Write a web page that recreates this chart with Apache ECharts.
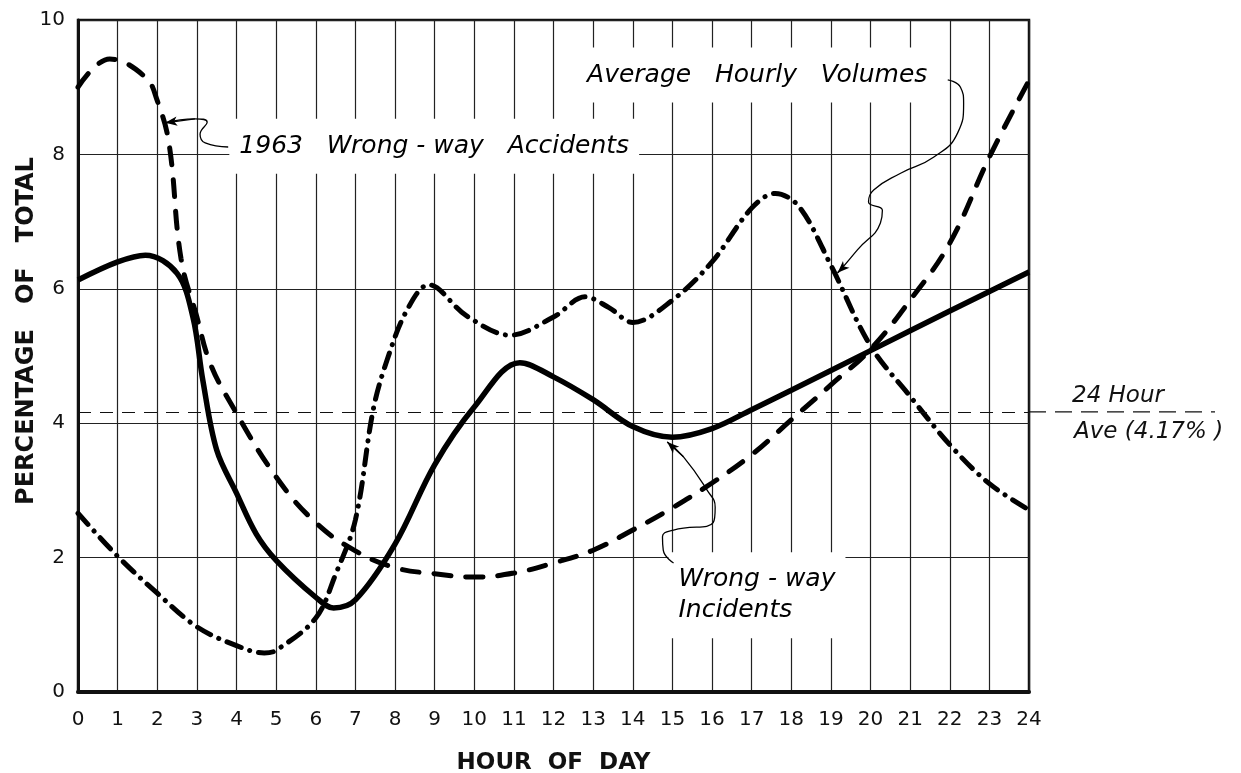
<!DOCTYPE html>
<html>
<head>
<meta charset="utf-8">
<script src="https://cdn.jsdelivr.net/npm/echarts@6/dist/echarts.min.js"></script>
<style>
  html, body { margin: 0; padding: 0; background: #fff; }
  #chart { width: 1241px; height: 773px; }
</style>
</head>
<body>
<div id="chart"></div>
<script>
// hour of day 0-24 (percentage of total)
const incidentHours = [0, 1, 1.7, 2.5, 2.9, 3.15, 3.5, 4, 4.5, 5, 6, 6.45, 7, 8, 9, 10, 11.15, 12, 13, 14, 15, 16, 17, 18, 20, 22, 24]
const incidentPct = [6.13, 6.4, 6.5, 6.23, 5.58, 4.64, 3.6, 2.96, 2.35, 1.96, 1.41, 1.25, 1.37, 2.2, 3.38, 4.24, 4.9, 4.69, 4.35, 3.95, 3.79, 3.92, 4.2, 4.49, 5.08, 5.67, 6.25]

const accidentHours = [0, 0.8, 1.7, 2, 2.3, 2.6, 3, 3.33, 3.85, 5, 6, 7, 8, 9, 10, 11, 12, 13, 14, 15, 16, 17, 18, 19, 20, 21, 22, 23, 24]
const accidentPct = [9.0, 9.42, 9.15, 8.8, 8.15, 6.45, 5.58, 4.9, 4.3, 3.2, 2.52, 2.1, 1.85, 1.76, 1.71, 1.77, 1.92, 2.11, 2.41, 2.74, 3.11, 3.53, 4.05, 4.57, 5.1, 5.83, 6.68, 7.96, 9.1]

const volumeHours = [0, 1, 2, 3, 4, 4.7, 5, 6, 6.5, 7, 7.45, 7.8, 8.3, 8.85, 9.8, 10.9, 12, 12.8, 13.4, 14, 15, 16, 17, 17.6, 18.2, 19, 20, 21, 22, 23, 24]
const volumePct = [2.66, 2.02, 1.47, 0.97, 0.69, 0.58, 0.62, 1.1, 1.75, 2.56, 4.2, 4.94, 5.68, 6.06, 5.6, 5.31, 5.58, 5.88, 5.72, 5.5, 5.83, 6.4, 7.2, 7.42, 7.22, 6.35, 5.15, 4.4, 3.68, 3.1, 2.71]

const dayAverage = 4.17

// leader curves from the notes to their lines, in chart units
const accidentsLeader = [[3.79, 8.11], [3.21, 8.17], [3.08, 8.3], [3.26, 8.48], [2.95, 8.53], [2.2, 8.47]]
const volumesLeader = [[21.95, 9.11], [22.27, 9.0], [22.35, 8.76], [22.2, 8.32], [21.6, 7.96], [20.76, 7.72], [20.08, 7.47], [19.95, 7.29], [20.3, 7.17], [20.25, 6.98], [19.67, 6.58], [19.24, 6.28], [19.17, 6.24]]
const incidentsLeader = [[15.03, 1.92], [14.77, 2.11], [14.75, 2.31], [15.03, 2.41], [16.03, 2.52], [16.08, 2.75], [15.88, 3.0], [15.28, 3.5], [14.87, 3.72]]

const pairs = (xs, ys) => xs.map((x, i) => [x, ys[i]])
const font = 'DejaVu Sans'

const leader = (data) => ({
  type: 'line',
  data: data,
  smooth: 0.5,
  silent: true,
  z: 3,
  showSymbol: false,
  lineStyle: { color: '#000', width: 1.3 },
  markLine: {
    silent: true,
    symbol: ['none', 'arrow'],
    symbolSize: [7, 12],
    label: { show: false },
    lineStyle: { color: '#000', width: 1.3, type: 'solid' },
    data: [[{ coord: data[data.length - 2] }, { coord: data[data.length - 1] }]],
  },
})

const note = (x, y, text, align) => ({
  value: [x, y],
  label: {
    show: true,
    position: 'inside',
    align: align || 'center',
    verticalAlign: 'middle',
    formatter: text,
    fontFamily: font,
    fontStyle: 'italic',
    fontSize: 25,
    lineHeight: 31,
    color: '#000',
    backgroundColor: '#fff',
    padding: [12, 10],
  },
})

let option = {
  animation: false,
  backgroundColor: '#fff',
  grid: {
    left: 78,
    right: 212,
    top: 20,
    bottom: 81,
    outerBoundsMode: 'none',
    show: true,
    borderColor: '#111',
    borderWidth: 2.5,
  },
  xAxis: {
    type: 'value',
    min: 0,
    max: 24,
    interval: 1,
    name: 'HOUR  OF  DAY',
    nameLocation: 'middle',
    nameGap: 60,
    nameTextStyle: { fontFamily: font, fontWeight: 'bold', fontSize: 23, color: '#111' },
    axisLine: { show: true, lineStyle: { color: '#111', width: 4 } },
    axisTick: { show: false },
    axisLabel: { margin: 18, fontFamily: font, fontSize: 20, color: '#111' },
    splitLine: { show: true, lineStyle: { color: '#222', width: 1.2 } },
  },
  yAxis: {
    type: 'value',
    min: 0,
    max: 10,
    interval: 2,
    name: 'PERCENTAGE   OF   TOTAL',
    nameLocation: 'middle',
    nameGap: 39,
    nameMoveOverlap: false,
    nameTextStyle: { fontFamily: font, fontWeight: 'bold', fontSize: 24, color: '#111', padding: [0, 0, 0, 50] },
    axisLine: { show: true, lineStyle: { color: '#111', width: 3 } },
    axisTick: { show: false },
    axisLabel: { margin: 13, fontFamily: font, fontSize: 20, color: '#111' },
    splitLine: { show: true, lineStyle: { color: '#222', width: 1.2 } },
  },
  series: [
    {
      // white label boxes that break the grid, like the drawing
      type: 'scatter',
      z: 1,
      symbolSize: 0,
      silent: true,
      itemStyle: { opacity: 1 },
      data: [
        note(8.99, 8.12, '1963   Wrong - way   Accidents'),
        note(17.14, 9.18, 'Average   Hourly   Volumes'),
        note(14.9, 1.44, 'Wrong - way\nIncidents', 'left'),
      ],
    },
    {
      name: 'Average Hourly Volumes',
      type: 'line',
      z: 4,
      data: pairs(volumeHours, volumePct),
      smooth: 0.35,
      showSymbol: false,
      lineStyle: { color: '#000', width: 5, type: [15, 9, 0.1, 9], cap: 'round' },
      markLine: {
        silent: true,
        symbol: 'none',
        label: { show: false },
        lineStyle: { color: '#111', width: 1.2, type: [13, 9] },
        data: [[{ coord: [0, dayAverage] }, { coord: [24, dayAverage] }]],
      },
    },
    {
      name: '1963 Wrong-way Accidents',
      type: 'line',
      z: 4,
      data: pairs(accidentHours, accidentPct),
      smooth: 0.4,
      showSymbol: false,
      lineStyle: { color: '#000', width: 5, type: [17, 15], cap: 'round' },
    },
    {
      name: 'Wrong-way Incidents',
      type: 'line',
      z: 5,
      data: pairs(incidentHours, incidentPct),
      smooth: 0.35,
      showSymbol: false,
      lineStyle: { color: '#000', width: 5.5 },
    },
    leader(accidentsLeader),
    leader(volumesLeader),
    leader(incidentsLeader),
  ],
}

const chart = echarts.init(document.getElementById('chart'), null, { renderer: 'canvas' })
chart.setOption(option)

// average line runs past the frame to its note on the right
const right = chart.convertToPixel('grid', [24, dayAverage])
chart.setOption({
  graphic: [
    {
      type: 'line',
      silent: true,
      shape: { x1: right[0], y1: right[1], x2: right[0] + 186, y2: right[1] },
      style: { stroke: '#111', lineWidth: 1.2, lineDash: [17, 9] },
    },
    {
      type: 'text',
      x: right[0] + 43,
      y: right[1] - 16,
      style: { text: '24 Hour', fontFamily: font, fontStyle: 'italic', fontSize: 23, fill: '#111', verticalAlign: 'middle' },
    },
    {
      type: 'text',
      x: right[0] + 45,
      y: right[1] + 20,
      style: { text: 'Ave (4.17% )', fontFamily: font, fontStyle: 'italic', fontSize: 23, fill: '#111', verticalAlign: 'middle' },
    },
  ],
})
</script>
</body>
</html>
